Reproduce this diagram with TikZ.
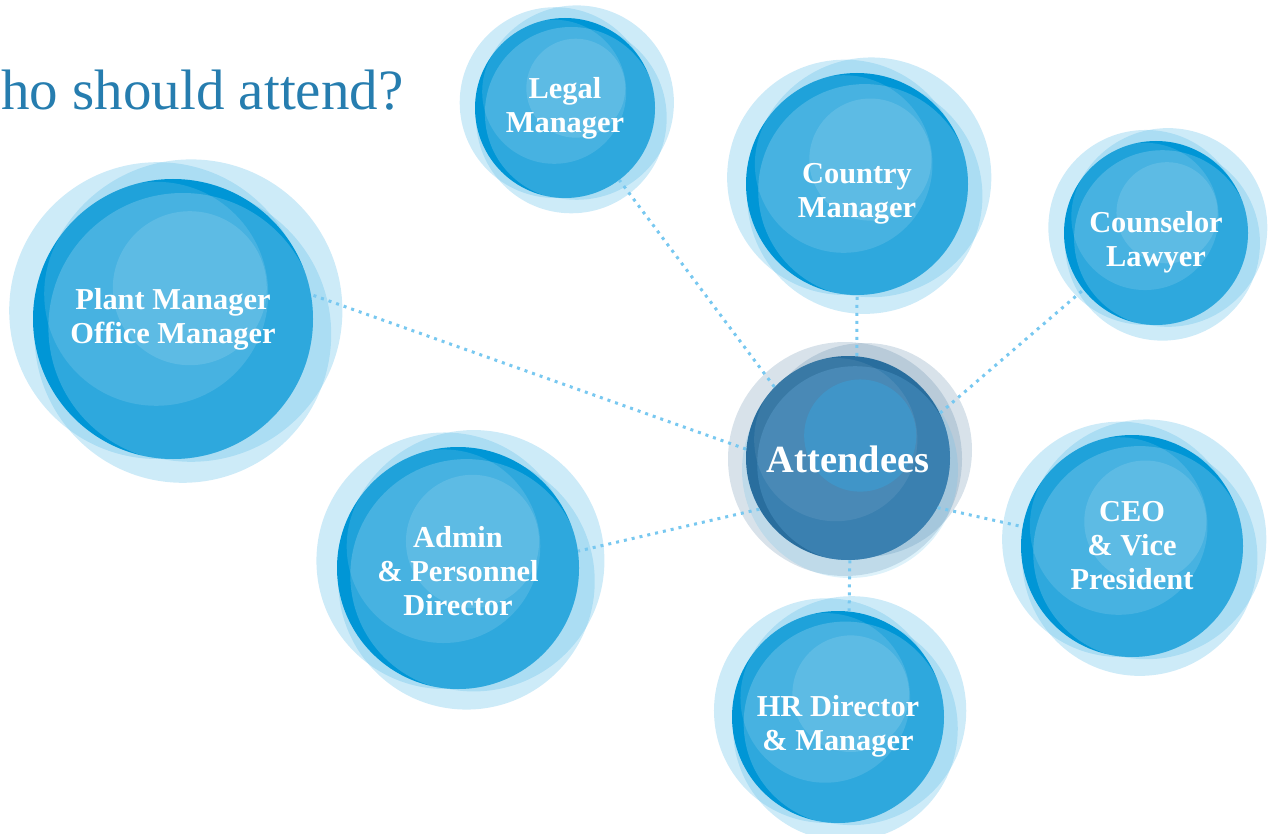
\documentclass[tikz,border=0pt]{standalone}
\usepackage{fontspec}
\setmainfont{Liberation Serif}

\definecolor{titleblue}{RGB}{38,125,175}
\definecolor{bubbleblue}{RGB}{0,150,214}
\definecolor{haloblue}{RGB}{91,188,232}
\definecolor{hubblue}{RGB}{41,110,158}
\definecolor{hubtint}{RGB}{80,152,200}
\definecolor{hubcore}{RGB}{58,158,212}
\definecolor{hubhalo}{RGB}{60,110,150}
\definecolor{linkblue}{RGB}{120,200,240}

\begin{document}
\begin{tikzpicture}[x=0.5pt, y=-0.5pt,
	halo/.style={fill=haloblue, fill opacity=.3},
	ov1/.style={fill=white, fill opacity=.18},
	ov2/.style={fill=white, fill opacity=.12},
	ov3/.style={fill=white, fill opacity=.12},
	bubble/.style={circle, inner sep=0pt, minimum size=#1pt, fill=bubbleblue,
		text=white, align=center, font=\bfseries\fontsize{15.2}{17}\selectfont,
		path picture={
			\fill[ov1] ([shift={(0.07*#1,0.06*#1)}]path picture bounding box.center) circle[radius=0.96*#1];
			\fill[ov2] ([shift={(-0.12*#1,-0.18*#1)}]path picture bounding box.center) circle[radius=0.80*#1];
			\fill[ov3] ([shift={(0.12*#1,-0.22*#1)}]path picture bounding box.center) circle[radius=0.55*#1];
		}},
	hub/.style={bubble=102, fill=hubblue, font=\bfseries\fontsize{19.2}{21}\selectfont,
		ov1/.style={fill=hubtint, fill opacity=.45},
		ov2/.style={fill=white, fill opacity=.08},
		ov3/.style={fill=hubcore, fill opacity=.6}},
	lower/.style={text height=#1},
	link/.style={draw=linkblue, line width=1.5pt, dash pattern=on 1.5pt off 2.5pt}]

	\useasboundingbox (0,0) rectangle (1269,834);

	\node[anchor=base west, inner sep=0pt, text=titleblue, font=\fontsize{28.5}{30}\selectfont] (title) at (1,110) {ho should attend?};

	% pale rings behind every bubble
	\foreach \nx/\ny/\r in {173/319/140, 565/108/90, 857/184/111, 1156/233/92, 458/568/121, 1132/546/111, 838/717/106} {
		\fill[halo] (\nx-0.11*\r, \ny-0.06*\r) circle[radius=1.06*\r];
		\fill[halo] (\nx+0.13*\r, \ny-0.06*\r) circle[radius=1.08*\r];
		\fill[halo] (\nx+0.07*\r, \ny+0.11*\r) circle[radius=1.06*\r];
	}
	\fill[fill=hubhalo, fill opacity=.2] (845,459) circle[radius=117];
	\fill[fill=hubhalo, fill opacity=.2] (865,450) circle[radius=107];
	\fill[fill=haloblue, fill opacity=.2] (850,470) circle[radius=108];

	\node (att) [hub, lower=15pt] at (848,458) {Attendees};
	\node (plant) [bubble=140] at (173,319) {Plant Manager\\Office Manager};
	\node (legal) [bubble=90] at (565,108) {Legal\\Manager};
	\node (country) [bubble=111, lower=36.5pt] at (857,184) {Country\\Manager};
	\node (counsel) [bubble=92, lower=36.5pt] at (1156,233) {Counselor\\Lawyer};
	\node (admin) [bubble=121, lower=47.5pt] at (458,568) {Admin\\\& Personnel\\Director};
	\node (ceo) [bubble=111] at (1132,546) {CEO\\\& Vice\\President};
	\node (hr) [bubble=106, lower=36.5pt] at (838,717) {HR Director\\\& Manager};

	\draw[link] (att.175) -- (plant.10);
	\draw[link] (att.136) -- (legal.-53);
	\draw[link] (att.85) -- (country.270);
	\draw[link] (att.26) -- (counsel.218);
	\draw[link] (att.-29) -- (ceo.170);
	\draw[link] (att.-89) -- (hr.84);
	\draw[link] (att.210) -- (admin.8);
\end{tikzpicture}
\end{document}
